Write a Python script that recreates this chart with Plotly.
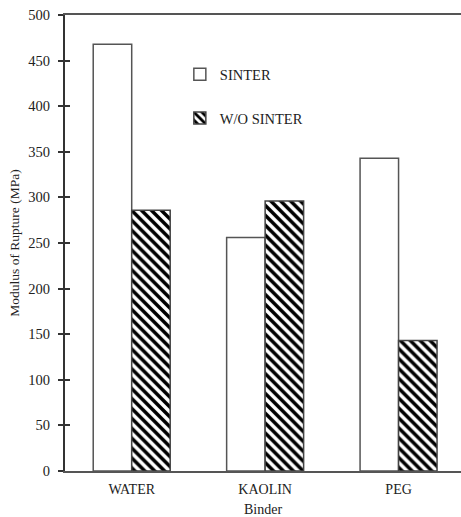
import plotly.graph_objects as go

categories = ["WATER", "KAOLIN", "PEG"]
sinter = [468, 256, 343]
wo_sinter = [286, 296, 143]
series_names = ["SINTER", "W/O SINTER"]
y_ticks = [0, 50, 100, 150, 200, 250, 300, 350, 400, 450, 500]

FONT = "Liberation Serif, Times New Roman, serif"

fig = go.Figure()
fig.add_trace(go.Bar(
    x=categories, y=sinter, name=series_names[0], legendgroup="a",
    marker=dict(color="white", line=dict(color="#555555", width=1.5)),
))
fig.add_trace(go.Bar(
    x=categories, y=wo_sinter, name=series_names[1], legendgroup="b",
    marker=dict(color="white", line=dict(color="#444444", width=1.5),
                pattern=dict(shape="\\", fgcolor="black", bgcolor="white",
                             size=7, solidity=0.5, fgopacity=1)),
))

fig.update_layout(
    width=461, height=517,
    margin=dict(l=65, r=0, t=15, b=46),
    paper_bgcolor="white", plot_bgcolor="white",
    barmode="group", bargap=0.423, bargroupgap=0,
    font=dict(family=FONT, size=14, color="#222222"),
    showlegend=True,
    legend=dict(x=0.29, y=0.905, xanchor="left", yanchor="top",
                bgcolor="rgba(0,0,0,0)", traceorder="grouped",
                tracegroupgap=22, font=dict(size=14.5, family=FONT),
                itemwidth=30),
    xaxis=dict(range=[-0.5, 2.468], showline=True, mirror=True,
               linecolor="#555555", linewidth=2, ticks="",
               showgrid=False, tickfont=dict(size=14), ticklabelstandoff=4,
               title=dict(text="Binder", font=dict(size=14), standoff=8)),
    yaxis=dict(range=[0, 500], tickvals=y_ticks, showline=True,
               linecolor="#333333", linewidth=2, ticks="outside",
               ticklen=5, tickwidth=1.5, tickcolor="#333333",
               showgrid=False, zeroline=False, tickfont=dict(size=14.5),
               ticklabelstandoff=5,
               title=dict(text="Modulus of Rupture (MPa)", font=dict(size=13.5), standoff=6)),
    yaxis2=dict(range=[0, 500], tickvals=y_ticks, overlaying="y",
                side="left", ticks="inside", ticklen=5, tickwidth=1.5,
                tickcolor="#333333", showticklabels=False, showgrid=False,
                zeroline=False, showline=False),
)
fig.add_trace(go.Scatter(x=[None], y=[None], yaxis="y2", showlegend=False,
                         hoverinfo="skip"))

fig.write_html("out.html")
